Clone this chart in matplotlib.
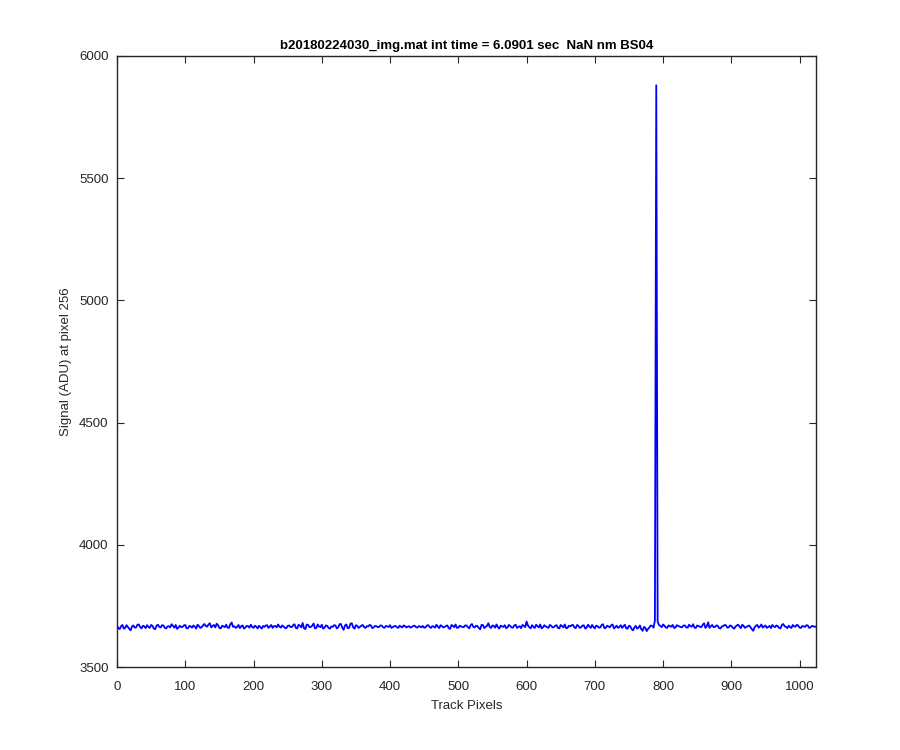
import numpy as np
import matplotlib
matplotlib.use("Agg")
import matplotlib.pyplot as plt

plt.rcParams['font.family'] = ['Liberation Sans', 'DejaVu Sans']

# Baseline signal at track pixels 0, 4, 8, ...
even_values = [
    3668, 3655, 3672, 3660, 3664, 3650, 3670, 3662, 3674, 3658, 3666, 3671, 3660, 3668, 3655, 3673,
    3662, 3670, 3658, 3667, 3675, 3661, 3656, 3669, 3664, 3672, 3659, 3666, 3670, 3657, 3668, 3663,
    3676, 3665, 3679, 3668, 3662, 3671, 3658, 3666, 3673, 3660, 3682, 3667, 3664, 3659, 3670, 3662,
    3667, 3673, 3660, 3665, 3669, 3657, 3664, 3671, 3666, 3660, 3668, 3674, 3661, 3666, 3659, 3670,
    3663, 3675, 3658, 3669, 3680, 3655, 3672, 3664, 3678, 3660, 3666, 3673, 3661, 3668, 3657, 3664,
    3670, 3662, 3676, 3652, 3674, 3660, 3679, 3657, 3668, 3664, 3672, 3660, 3666, 3670, 3662, 3667,
    3664, 3669, 3661, 3666, 3671, 3663, 3668, 3660, 3665, 3670, 3662, 3667, 3664, 3669, 3661, 3666,
    3668, 3662, 3671, 3660, 3666, 3673, 3659, 3667, 3664, 3670, 3656, 3668, 3674, 3661, 3666, 3663,
    3670, 3658, 3676, 3662, 3667, 3654, 3672, 3665, 3679, 3660, 3668, 3674, 3657, 3666, 3671, 3662,
    3668, 3661, 3673, 3664, 3659, 3669, 3686, 3663, 3671, 3660, 3667, 3674, 3662, 3666, 3660, 3669,
    3663, 3671, 3658, 3667, 3674, 3660, 3666, 3672, 3659, 3668, 3663, 3670, 3661, 3666, 3672, 3658,
    3667, 3662, 3675, 3660, 3666, 3671, 3658, 3669, 3664, 3660, 3673, 3657, 3666, 3650, 3668, 3661,
    3655, 3664, 3647, 3662, 3668, 3690, 3685, 3668, 3674, 3662, 3670, 3665, 3660, 3671, 3666, 3663,
    3670, 3661, 3667, 3675, 3660, 3668, 3663, 3679, 3666, 3660, 3672, 3664, 3669, 3658, 3667, 3671,
    3662, 3668, 3657, 3670, 3665, 3673, 3660, 3667, 3663, 3648, 3669, 3661, 3674, 3666, 3660, 3668,
    3672, 3663, 3667, 3658, 3676, 3664, 3669, 3660, 3666, 3673, 3661, 3668, 3664, 3670, 3662, 3667,
]
# Baseline signal at track pixels 2, 6, 10, ...
odd_values = [
    3660, 3667, 3657, 3671, 3656, 3666, 3661, 3673, 3663, 3669, 3659, 3664, 3672, 3657, 3669, 3664,
    3671, 3660, 3666, 3662, 3668, 3672, 3661, 3663, 3670, 3658, 3668, 3661, 3665, 3673, 3660, 3670,
    3668, 3674, 3662, 3672, 3677, 3660, 3669, 3663, 3661, 3675, 3664, 3660, 3672, 3667, 3657, 3668,
    3661, 3664, 3669, 3658, 3663, 3668, 3670, 3660, 3672, 3667, 3662, 3665, 3670, 3660, 3668, 3664,
    3671, 3660, 3673, 3662, 3658, 3674, 3663, 3669, 3658, 3674, 3663, 3657, 3670, 3660, 3666, 3671,
    3658, 3675, 3661, 3670, 3659, 3677, 3662, 3671, 3660, 3669, 3663, 3667, 3672, 3659, 3668, 3663,
    3670, 3662, 3668, 3664, 3660, 3667, 3663, 3669, 3662, 3667, 3665, 3661, 3668, 3663, 3667, 3662,
    3661, 3670, 3664, 3667, 3661, 3665, 3671, 3662, 3668, 3659, 3672, 3663, 3660, 3669, 3664, 3670,
    3663, 3671, 3664, 3669, 3660, 3672, 3659, 3668, 3664, 3670, 3661, 3663, 3669, 3664, 3659, 3672,
    3662, 3670, 3660, 3667, 3672, 3663, 3670, 3658, 3664, 3673, 3662, 3658, 3671, 3663, 3672, 3662,
    3669, 3660, 3672, 3662, 3659, 3669, 3671, 3662, 3672, 3660, 3670, 3657, 3673, 3660, 3664, 3669,
    3661, 3672, 3659, 3669, 3662, 3674, 3663, 3660, 3671, 3667, 3658, 3669, 3655, 3662, 3657, 3670,
    3648, 3660, 3656, 3670, 3661, 3667, 3672, 3663, 3669, 3660, 3667, 3672, 3661, 3668, 3663, 3670,
    3662, 3673, 3665, 3661, 3670, 3664, 3672, 3660, 3683, 3667, 3663, 3670, 3659, 3666, 3672, 3661,
    3670, 3661, 3665, 3673, 3659, 3668, 3664, 3670, 3655, 3662, 3672, 3666, 3661, 3670, 3664, 3659,
    3666, 3670, 3660, 3672, 3667, 3659, 3663, 3672, 3665, 3669, 3660, 3666, 3671, 3660, 3668, 3664,
]
last_x = 1023
last_value = 3665

# Cosmic-ray spike
spike_x = 790
spike_value = 5880

x = np.arange(0, 1024, 2)
y = np.empty(len(x))
y[0::2] = even_values
y[1::2] = odd_values
y[x == spike_x] = spike_value
x = np.append(x, last_x)
y = np.append(y, last_value)

title = "b20180224030_img.mat int time = 6.0901 sec  NaN nm BS04"
xlabel = "Track Pixels"
ylabel = "Signal (ADU) at pixel 256"

fig = plt.figure(figsize=(9, 7.5), dpi=100)
ax = fig.add_axes([117/900, 83/750, 699/900, 611/750])
ax.plot(x, y, color=(0, 0, 1), lw=1.3)

ax.set_xlim(0, 1024)
ax.set_ylim(3500, 6000)
ax.set_xticks(np.arange(0, 1001, 100))
ax.set_yticks(np.arange(3500, 6001, 500))

axcol = (0.15, 0.15, 0.15)
for s in ax.spines.values():
    s.set_color(axcol)
    s.set_linewidth(1.0)
ax.tick_params(direction='in', length=5, width=0.8, colors=axcol,
               labelsize=9.5, top=True, right=True)
ax.tick_params(axis='x', pad=10)
ax.tick_params(axis='y', pad=6)

ax.set_title(title, fontsize=9.5, fontweight='bold', color='black', pad=5)
ax.set_xlabel(xlabel, fontsize=9.5, color=axcol, labelpad=5)
ax.set_ylabel(ylabel, fontsize=9.5, color=axcol, labelpad=5)

fig.savefig("out.png", dpi=100, facecolor='white')
